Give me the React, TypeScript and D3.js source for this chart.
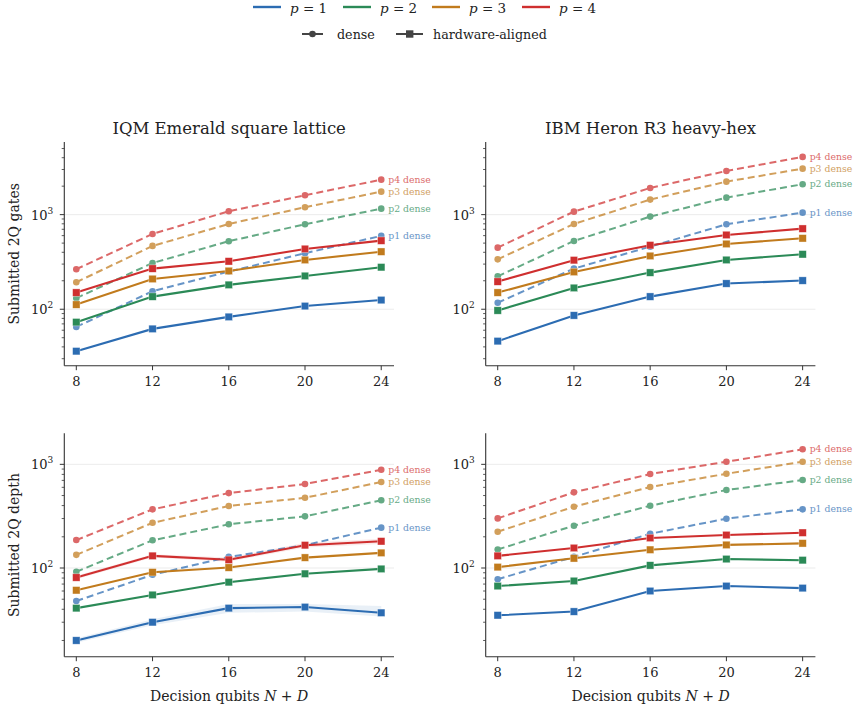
import React from 'react';
import * as d3 from 'd3';

const xs = [8, 12, 16, 20, 24];
const pNames = ['1', '2', '3', '4'];
const colors = ['#2c6cb2', '#2b8a57', '#c17b1d', '#cf2f2f'];

// IQM Emerald – submitted 2Q gates
const iqmGatesHW = [
  [36, 62, 83, 108, 125],
  [73, 136, 181, 225, 278],
  [112, 209, 254, 332, 406],
  [150, 269, 321, 434, 531],
];
const iqmGatesDense = [
  [65, 155, 250, 391, 596],
  [131, 308, 524, 791, 1157],
  [193, 467, 797, 1197, 1750],
  [265, 625, 1086, 1603, 2343],
];
// IBM Heron – submitted 2Q gates
const ibmGatesHW = [
  [46, 86, 136, 187, 201],
  [97, 168, 244, 332, 381],
  [150, 248, 366, 490, 562],
  [196, 330, 475, 610, 711],
];
const ibmGatesDense = [
  [117, 269, 459, 791, 1050],
  [223, 527, 953, 1513, 2095],
  [337, 797, 1442, 2233, 3064],
  [448, 1076, 1915, 2896, 4075],
];
// IQM Emerald – submitted 2Q depth
const iqmDepthHW = [
  [20, 30, 41, 42, 37],
  [41, 55, 73, 88, 98],
  [61, 91, 101, 126, 140],
  [81, 131, 120, 166, 181],
];
const iqmDepthDense = [
  [48, 86, 128, 166, 245],
  [92, 185, 264, 315, 450],
  [134, 273, 396, 476, 675],
  [186, 368, 528, 646, 887],
];
const iqmDepthBandLo = [
  [19, 28, 37, 38, 34],
  null,
  null,
  [78, 126, 115, 158, 170],
];
const iqmDepthBandHi = [
  [21, 32, 45, 45, 43],
  null,
  null,
  [84, 136, 126, 175, 192],
];
// IBM Heron – submitted 2Q depth
const ibmDepthHW = [
  [35, 38, 60, 67, 64],
  [67, 75, 106, 122, 119],
  [102, 124, 150, 167, 173],
  [131, 156, 195, 208, 219],
];
const ibmDepthDense = [
  [78, 128, 214, 299, 368],
  [151, 256, 399, 565, 706],
  [224, 390, 604, 811, 1059],
  [301, 537, 806, 1060, 1396],
];

const titles = ['IQM Emerald square lattice', 'IBM Heron R3 heavy-hex'];
const yLabels = ['Submitted 2Q gates', 'Submitted 2Q depth'];

const FONT = "'DejaVu Serif', serif";

type PanelProps = {
  left: number; right: number; top: number; bottom: number;
  yDomain: [number, number];
  hw: number[][]; dense: number[][];
  bandLo?: (number[] | null)[]; bandHi?: (number[] | null)[];
  title?: string; yLabel?: string; xLabel?: boolean;
};

function Panel(props: PanelProps) {
  const { left, right, top, bottom, yDomain, hw, dense, bandLo, bandHi, title, yLabel, xLabel } = props;
  const x = d3.scaleLinear().domain([7.37, 24.67]).range([left, right]);
  const y = d3.scaleLog().domain(yDomain).range([bottom, top]);
  const line = d3.line<number>().x((_, i) => x(xs[i])).y((v) => y(v));
  const area = d3.area<number>().x((_, i) => x(xs[i]));

  const majors = [10, 100, 1000, 10000].filter((v) => v >= yDomain[0] && v <= yDomain[1]);
  const minors: number[] = [];
  [10, 100, 1000].forEach((d) => {
    for (let k = 2; k <= 9; k++) {
      const v = d * k;
      if (v >= yDomain[0] && v <= yDomain[1]) minors.push(v);
    }
  });

  return (
    <g>
      {majors.map((v) => (
        <line key={'g' + v} x1={left} x2={right} y1={y(v)} y2={y(v)} stroke="#e6e6e6" strokeWidth={0.8} />
      ))}
      {bandLo && bandHi && bandLo.map((lo, k) => {
        const hi = bandHi[k];
        if (!lo || !hi) return null;
        const a = area.y0((_, i) => y(lo[i])).y1((_, i) => y(hi[i]));
        return <path key={'b' + k} d={a(lo) || ''} fill={colors[k]} fillOpacity={0.1} stroke="none" />;
      })}
      {dense.map((s, k) => (
        <g key={'d' + k} opacity={0.72}>
          <path d={line(s) || ''} fill="none" stroke={colors[k]} strokeWidth={2} strokeDasharray="7,4" />
          {s.map((v, i) => (
            <circle key={i} cx={x(xs[i])} cy={y(v)} r={3.3} fill={colors[k]} />
          ))}
          <text x={x(xs[4]) + 7} y={y(s[4]) + 3} fontSize={9.3} fill={colors[k]} fontFamily={FONT}>
            {'p' + pNames[k] + ' dense'}
          </text>
        </g>
      ))}
      {hw.map((s, k) => (
        <g key={'h' + k}>
          <path d={line(s) || ''} fill="none" stroke={colors[k]} strokeWidth={2.1} />
          {s.map((v, i) => (
            <rect key={i} x={x(xs[i]) - 3.7} y={y(v) - 3.7} width={7.4} height={7.4} fill={colors[k]}
              stroke="#ffffff" strokeOpacity={0.6} strokeWidth={0.6} />
          ))}
        </g>
      ))}
      {/* spines */}
      <line x1={left} x2={left} y1={top} y2={bottom} stroke="#333" strokeWidth={1.1} />
      <line x1={left} x2={right} y1={bottom} y2={bottom} stroke="#333" strokeWidth={1.1} />
      {majors.map((v) => (
        <g key={'m' + v}>
          <line x1={left - 4.5} x2={left} y1={y(v)} y2={y(v)} stroke="#333" strokeWidth={1} />
          <text x={left - 11} y={y(v) + 5} textAnchor="end" fontSize={13} fontFamily={FONT} fill="#222">
            10<tspan dy={-6} fontSize={9}>{String(Math.round(Math.log10(v)))}</tspan>
          </text>
        </g>
      ))}
      {minors.map((v) => (
        <line key={'n' + v} x1={left - 2.6} x2={left} y1={y(v)} y2={y(v)} stroke="#333" strokeWidth={0.8} />
      ))}
      {xs.map((v) => (
        <g key={'x' + v}>
          <line x1={x(v)} x2={x(v)} y1={bottom} y2={bottom + 4.5} stroke="#333" strokeWidth={1} />
          <text x={x(v)} y={bottom + 20} textAnchor="middle" fontSize={13} fontFamily={FONT} fill="#222">{v}</text>
        </g>
      ))}
      {title && (
        <text x={(left + right) / 2} y={top - 8} textAnchor="middle" fontSize={16.5} fontFamily={FONT} fill="#222">{title}</text>
      )}
      {yLabel && (
        <text transform={`translate(${left - 45},${(top + bottom) / 2}) rotate(-90)`} textAnchor="middle"
          fontSize={14} fontFamily={FONT} fill="#222">{yLabel}</text>
      )}
      {xLabel && (
        <text x={(left + right) / 2} y={bottom + 44} textAnchor="middle" fontSize={14} fontFamily={FONT} fill="#222">
          Decision qubits <tspan fontStyle="italic">N</tspan> + <tspan fontStyle="italic">D</tspan>
        </text>
      )}
    </g>
  );
}

export default function App() {
  const topDomain: [number, number] = [25.3, 5860];
  const botDomain: [number, number] = [13.95, 1992];
  const legendX = [253, 343, 432, 522];
  return (
    <svg width={860} height={711} style={{ position: 'absolute', left: 0, top: 0, background: '#fff' }}
      fontFamily={FONT}>
      <rect width={860} height={711} fill="#fff" />
      {/* legend row 1 */}
      {pNames.map((p, k) => (
        <g key={'l' + k}>
          <line x1={legendX[k]} x2={legendX[k] + 28} y1={7} y2={7} stroke={colors[k]} strokeWidth={2.4} />
          <text x={legendX[k] + 37} y={13} fontSize={13.5} fill="#222">
            <tspan fontStyle="italic">p</tspan> = {p}
          </text>
        </g>
      ))}
      {/* legend row 2 */}
      <g>
        <line x1={302} x2={323} y1={34} y2={34} stroke="#444" strokeWidth={2} />
        <circle cx={312.5} cy={34} r={3.3} fill="#444" />
        <text x={337} y={38.5} fontSize={12.7} fill="#222">dense</text>
        <line x1={396} x2={423} y1={34} y2={34} stroke="#444" strokeWidth={2} />
        <rect x={406} y={30.3} width={7.4} height={7.4} fill="#444" />
        <text x={433} y={38.5} fontSize={12.7} fill="#222">hardware-aligned</text>
      </g>
      <Panel left={64.3} right={394} top={142} bottom={365.7} yDomain={topDomain}
        hw={iqmGatesHW} dense={iqmGatesDense} title={titles[0]} yLabel={yLabels[0]} />
      <Panel left={485.7} right={815.4} top={142} bottom={365.7} yDomain={topDomain}
        hw={ibmGatesHW} dense={ibmGatesDense} title={titles[1]} />
      <Panel left={64.3} right={394} top={433.3} bottom={656.7} yDomain={botDomain}
        hw={iqmDepthHW} dense={iqmDepthDense} bandLo={iqmDepthBandLo} bandHi={iqmDepthBandHi}
        yLabel={yLabels[1]} xLabel />
      <Panel left={485.7} right={815.4} top={433.3} bottom={656.7} yDomain={botDomain}
        hw={ibmDepthHW} dense={ibmDepthDense} xLabel />
    </svg>
  );
}
